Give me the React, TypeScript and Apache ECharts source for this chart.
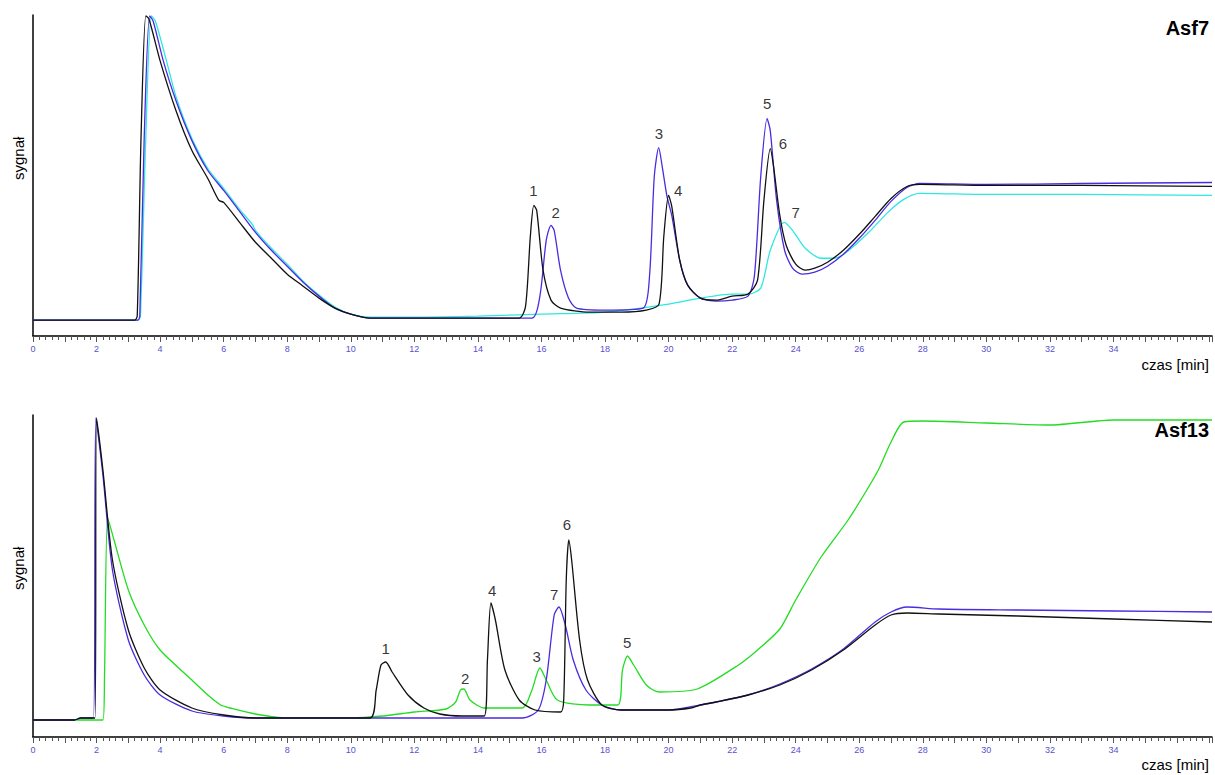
import { useEffect, useRef } from "react";
import * as echarts from "echarts";

// top panel (Asf7): [time min, signal]
const asf7Black: number[][] = [
  [0, 16], [3.2, 16], [3.28, 20], [3.4, 200], [3.55, 321], [3.65, 318], [4, 276], [4.5, 226], [5, 186], [5.5, 158], [5.85, 136],
  [6, 134], [6.5, 114], [7, 94], [7.5, 78], [8, 62], [8.5, 50], [9, 38], [9.5, 28], [10, 22], [10.6, 18], [12, 18], [15.3, 18],
  [15.5, 30], [15.65, 100], [15.76, 131], [15.85, 126], [16.05, 66], [16.3, 36], [16.6, 28], [17.5, 24], [18.5, 24], [19.3, 26],
  [19.7, 32], [19.85, 100], [20.0, 141], [20.1, 130], [20.35, 76], [20.6, 51], [21, 38], [21.5, 36], [22, 40], [22.5, 42],
  [22.8, 56], [23.0, 136], [23.2, 188], [23.3, 171], [23.5, 121], [23.7, 91], [24, 72], [24.3, 66], [24.6, 68], [25, 74],
  [25.5, 86], [26, 102], [26.5, 120], [27, 138], [27.5, 150], [27.9, 152], [30, 151], [33, 151], [37.1, 150],
];
const asf7Blue: number[][] = [
  [0, 16], [3.3, 16], [3.36, 20], [3.5, 200], [3.67, 321], [3.78, 316], [4.1, 276], [4.5, 236], [5, 196], [5.5, 166], [6, 146],
  [6.5, 125], [7, 104], [7.5, 86], [8, 70], [8.5, 54], [9, 40], [9.5, 28], [10, 22], [10.6, 18], [12, 18], [15.7, 18],
  [15.95, 40], [16.15, 96], [16.3, 111], [16.4, 106], [16.6, 66], [16.85, 38], [17.1, 28], [18, 26], [19.2, 28], [19.4, 60],
  [19.55, 160], [19.69, 189], [19.8, 170], [19.95, 140], [20.1, 121], [20.35, 76], [20.6, 51], [21, 38], [21.5, 35], [22, 36],
  [22.5, 40], [22.7, 60], [22.9, 160], [23.1, 218], [23.2, 206], [23.4, 136], [23.65, 86], [23.9, 68], [24.2, 62], [24.6, 64],
  [25, 70], [25.5, 82], [26, 98], [26.5, 116], [27, 135], [27.5, 149], [27.9, 153], [30, 152], [33, 153], [37.1, 154],
];
const asf7Cyan: number[][] = [
  [0, 16], [3.3, 16], [3.38, 20], [3.55, 200], [3.72, 321], [3.85, 316], [4.2, 276], [4.5, 240], [5, 198], [5.5, 168], [6, 148],
  [6.5, 127], [6.9, 112], [7, 106], [7.5, 88], [8, 72], [8.5, 55], [9, 41], [9.5, 29], [10, 22], [10.6, 19], [12, 19], [14, 20],
  [16, 22], [18, 24], [20, 32], [21, 38], [22, 42], [22.5, 42], [22.9, 48], [23.2, 86], [23.64, 114], [23.9, 106], [24.3, 88],
  [24.8, 78], [25.2, 78], [25.6, 84], [26.3, 104], [26.9, 124], [27.4, 137], [27.9, 143], [30, 142], [33, 142], [37.1, 141],
];
const asf7Peaks: (number | string)[][] = [
  [15.75, 146, "1"], [16.45, 124, "2"], [19.7, 203, "3"], [20.3, 146, "4"], [23.1, 233, "5"], [23.6, 193, "6"], [24.0, 124, "7"],
];

// bottom panel (Asf13)
const asf13Black: number[][] = [
  [0, 17], [1.3, 17], [1.5, 19], [1.95, 19], [2.0, 319], [2.2, 267], [2.5, 177], [3, 107], [3.5, 69], [4, 47], [5, 29], [6, 22],
  [7, 19], [10.6, 19], [10.8, 47], [10.95, 72], [11.1, 75], [11.3, 65], [11.8, 42], [12.3, 29], [12.8, 23], [13.5, 21],
  [14.2, 21], [14.3, 77], [14.41, 134], [14.55, 117], [14.85, 67], [15.3, 37], [15.8, 27], [16.6, 25], [16.7, 37], [16.78, 157],
  [16.86, 197], [16.95, 177], [17.2, 97], [17.45, 57], [17.9, 32], [18.5, 27], [20, 27], [20.7, 29], [21, 32], [21.5, 35],
  [22.5, 42], [23.5, 52], [24.5, 67], [25.5, 87], [26.5, 112], [27, 122], [27.5, 124], [28.5, 123], [31, 121], [34, 118],
  [37.1, 115],
];
const asf13Blue: number[][] = [
  [0, 17], [1.3, 17], [1.5, 19], [1.9, 19], [1.98, 319], [2.2, 262], [2.5, 167], [3, 97], [3.5, 62], [4, 42], [5, 26], [6, 21],
  [7, 19], [15.4, 19], [15.9, 27], [16.15, 57], [16.4, 122], [16.55, 130], [16.75, 112], [17.0, 77], [17.4, 47], [17.9, 32],
  [18.5, 27], [20, 27], [21, 32], [22.5, 42], [23.5, 53], [24.5, 68], [25.5, 88], [26.5, 115], [27, 125], [27.5, 130],
  [28.5, 128], [31, 127], [34, 126], [37.1, 125],
];
const asf13Green: number[][] = [
  [0, 17], [2.2, 17], [2.25, 60], [2.35, 219], [2.55, 197], [3, 147], [3.5, 112], [4, 87], [5, 57], [5.5, 42], [5.9, 32],
  [6, 31], [6.2, 29], [7, 23], [8, 19], [10, 19], [11, 21], [12, 25], [13, 28], [13.3, 35], [13.45, 47], [13.56, 48],
  [13.75, 37], [14.2, 29], [15.4, 29], [15.7, 47], [15.95, 69], [16.15, 57], [16.5, 37], [17.5, 32], [18.4, 32], [18.55, 67],
  [18.71, 81], [18.9, 72], [19.3, 52], [19.7, 45], [20.9, 48], [22.2, 72], [22.8, 87], [23.5, 108], [24, 137], [24.8, 180],
  [25.65, 217], [26.2, 245], [26.6, 267], [27, 295], [27.4, 315], [28, 316], [30, 314], [32, 312], [34, 317], [37.1, 317],
];
const asf13Peaks: (number | string)[][] = [
  [11.1, 89, "1"], [13.6, 59, "2"], [15.85, 81, "3"], [14.45, 147, "4"], [18.7, 95, "5"], [16.8, 213, "6"], [16.4, 143, "7"],
];

const X_MAX = 37.1;

export default function App() {
  const chartRef = useRef<HTMLDivElement>(null);

  useEffect(() => {
    document.body.style.margin = "0";
    if (!chartRef.current) return;
    const chart = echarts.init(chartRef.current, null, { renderer: "svg" });

    const xAxis = (gridIndex: number) => ({
      type: "value" as const,
      gridIndex,
      min: 0,
      max: X_MAX,
      interval: 1,
      axisLine: { lineStyle: { color: "#000", width: 1.5 } },
      axisTick: { length: 6, lineStyle: { color: "#555" } },
      minorTick: { show: true, splitNumber: 5, length: 4, lineStyle: { color: "#555" } },
      splitLine: { show: false },
      axisLabel: {
        color: "#5a4fcf",
        fontSize: 9,
        fontFamily: "Arial, Liberation Sans",
        formatter: (v: number) => (v % 2 === 0 && v < 36 ? String(v) : ""),
      },
    });
    const yAxis = (gridIndex: number) => ({
      type: "value" as const,
      gridIndex,
      min: 0,
      max: 322,
      axisLine: { show: true, lineStyle: { color: "#000", width: 1.5 } },
      axisTick: { show: false },
      axisLabel: { show: false },
      splitLine: { show: false },
    });
    const line = (data: number[][], color: string, idx: number, z = 2) => ({
      type: "line" as const,
      xAxisIndex: idx,
      yAxisIndex: idx,
      data,
      symbol: "none",
      smooth: 0.25,
      z,
      lineStyle: { color, width: 1.3 },
    });
    const labels = (data: (number | string)[][], idx: number) => ({
      type: "scatter" as const,
      xAxisIndex: idx,
      yAxisIndex: idx,
      data,
      symbolSize: 0,
      z: 5,
      label: {
        show: true,
        formatter: (p: any) => p.value[2],
        color: "#000",
        fontSize: 15,
        fontFamily: "Arial, Liberation Sans",
      },
    });
    const textStyle = { fontFamily: "Arial, Liberation Sans", fill: "#000" };

    chart.setOption({
      animation: false,
      grid: [
        { left: 33, right: 0, top: 15, height: 321 },
        { left: 33, right: 0, top: 415, height: 322 },
      ],
      xAxis: [xAxis(0), xAxis(1)],
      yAxis: [yAxis(0), yAxis(1)],
      series: [
        line(asf7Cyan, "#2ee8e0", 0, 1),
        line(asf7Blue, "#4a2be0", 0, 2),
        line(asf7Black, "#111", 0, 3),
        labels(asf7Peaks, 0),
        line(asf13Green, "#22dd22", 1, 1),
        line(asf13Blue, "#4a2be0", 1, 2),
        line(asf13Black, "#111", 1, 3),
        labels(asf13Peaks, 1),
      ],
      graphic: [
        { type: "text", right: 6, top: 18, style: { ...textStyle, text: "Asf7", fontSize: 20, fontWeight: "bold" } },
        { type: "text", right: 6, top: 420, style: { ...textStyle, text: "Asf13", fontSize: 20, fontWeight: "bold" } },
        { type: "text", right: 6, top: 357, style: { ...textStyle, text: "czas [min]", fontSize: 15 } },
        { type: "text", right: 6, top: 757, style: { ...textStyle, text: "czas [min]", fontSize: 15 } },
        { type: "text", x: 11, y: 180, rotation: Math.PI / 2, style: { ...textStyle, text: "sygnał", fontSize: 15 } },
        { type: "text", x: 11, y: 590, rotation: Math.PI / 2, style: { ...textStyle, text: "sygnał", fontSize: 15 } },
      ],
    });
    return () => chart.dispose();
  }, []);

  return <div ref={chartRef} style={{ width: 1215, height: 775 }} />;
}
